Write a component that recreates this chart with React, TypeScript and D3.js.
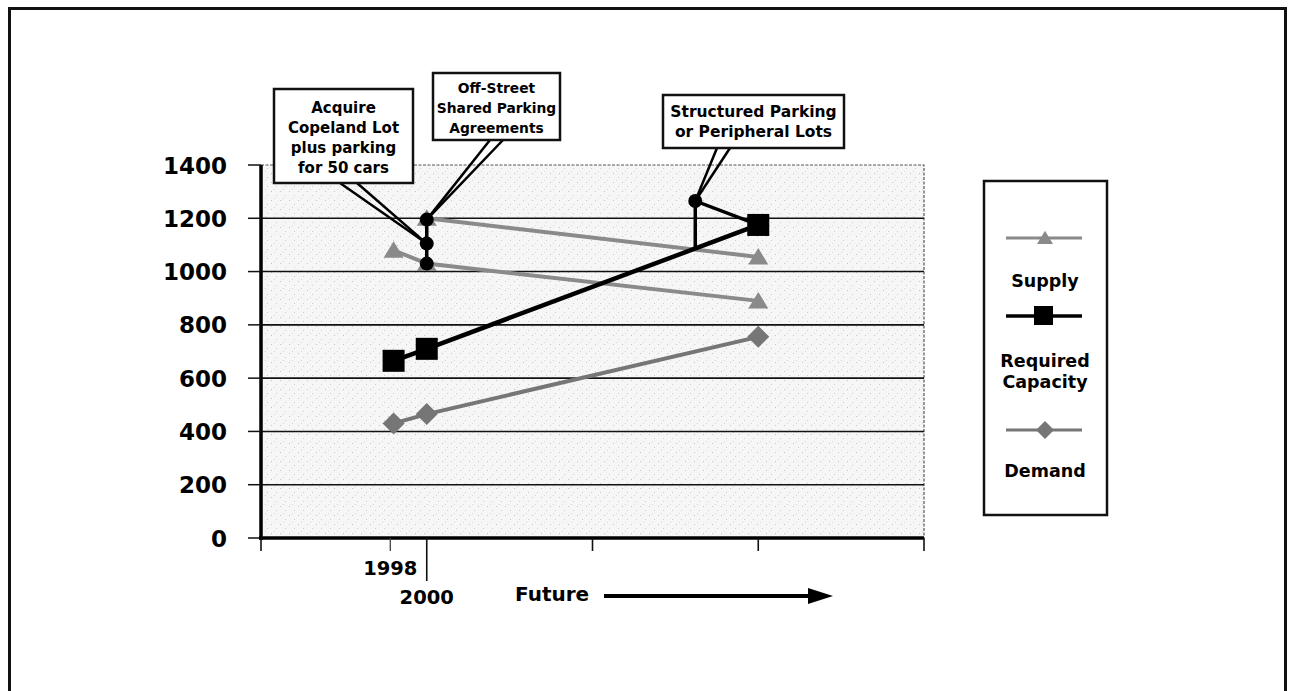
import React from "react";
import * as d3 from "d3";

// ---- data ----
const periodLabels = ["1998", "2000", "Future"];
const periodPos = [0.8, 1, 3];
const supplyCurrent = [1080, 1030, 890];
const supplyExpanded: (number | null)[] = [null, 1200, 1055];
const requiredCapacity = [665, 710, 1175];
const demand = [430, 465, 755];
const yTicks = [0, 200, 400, 600, 800, 1000, 1200, 1400];
const xTicks = [0, 1, 2, 3, 4];
const stepCircles = [1030, 1105, 1195]; // annotation markers at 2000
const structuredPoint = { pos: 2.62, value: 1265 };
const legendItems = ["Supply", "Required Capacity", "Demand"];

const FONT = "'DejaVu Sans', Verdana, sans-serif";
const GREY_S = "#8a8a8a";
const GREY_D = "#767676";

const x = d3.scaleLinear().domain([0, 4]).range([261, 924]);
const y = d3.scaleLinear().domain([0, 1400]).range([538, 165]);

function tri(cx: number, cy: number, s: number) {
  return `M${cx},${cy - s * 0.9} L${cx + s},${cy + s * 0.75} L${cx - s},${cy + s * 0.75} Z`;
}
function diamond(cx: number, cy: number, s: number) {
  return `M${cx},${cy - s} L${cx + s},${cy} L${cx},${cy + s} L${cx - s},${cy} Z`;
}

export default function App() {
  const line = d3
    .line<[number, number | null]>()
    .defined((d) => d[1] != null)
    .x((d) => x(d[0]))
    .y((d) => y(d[1] as number));
  const pts = (vals: (number | null)[]) => vals.map((v, i) => [periodPos[i], v] as [number, number | null]);

  const rcAt = d3.scaleLinear().domain([periodPos[1], periodPos[2]]).range([requiredCapacity[1], requiredCapacity[2]]);
  const sx = x(structuredPoint.pos);
  const sy = y(structuredPoint.value);

  const callouts = [
    { box: [274, 89, 139, 94], fs: 15, lines: ["Acquire", "Copeland Lot", "plus parking", "for 50 cars"], first: 113, tail: [340, 357], target: [x(1), y(stepCircles[1])] },
    { box: [433, 73, 127, 67], fs: 13.8, lines: ["Off-Street", "Shared Parking", "Agreements"], first: 93, tail: [490, 503], target: [x(1), y(stepCircles[2])] },
    { box: [663, 95, 181, 53], fs: 15.5, lines: ["Structured Parking", "or Peripheral Lots"], first: 117, tail: [717, 730], target: [sx, sy] },
  ];

  return (
    <svg width={1289} height={691} style={{ position: "absolute", left: 0, top: 0, background: "#fff" }}>
      <defs>
        <pattern id="stip" width="9" height="9" patternUnits="userSpaceOnUse">
          <rect width="9" height="9" fill="#f6f6f6" />
          <rect x="1" y="2" width="1" height="1" fill="#c4c4c4" />
          <rect x="6" y="6" width="1" height="1" fill="#cfcfcf" />
          <rect x="4" y="0" width="1" height="1" fill="#d8d8d8" />
        </pattern>
      </defs>
      {/* outer frame */}
      <rect x={9.5} y={8.5} width={1276} height={700} fill="none" stroke="#111" strokeWidth={3} />

      {/* plot background */}
      <rect x={x(0)} y={y(1400)} width={x(4) - x(0)} height={y(0) - y(1400)} fill="url(#stip)" />
      <path d={`M${x(0)},${y(1400)} H${x(4)} V${y(0)}`} fill="none" stroke="#555" strokeWidth={1.2} strokeDasharray="3,1.5" />

      {/* gridlines */}
      {yTicks.filter((t) => t > 0 && t < 1400).map((t) => (
        <line key={t} x1={x(0)} x2={x(4)} y1={y(t)} y2={y(t)} stroke="#111" strokeWidth={1.6} />
      ))}

      {/* y axis */}
      <line x1={x(0)} x2={x(0)} y1={y(1400)} y2={y(0) + 2} stroke="#000" strokeWidth={3.5} />
      {yTicks.map((t) => (
        <g key={t}>
          <line x1={248} x2={x(0)} y1={y(t)} y2={y(t)} stroke="#111" strokeWidth={1.5} />
          <text x={227} y={y(t) + 8.5} textAnchor="end" fontFamily={FONT} fontWeight="bold" fontSize={23} fill="#000">
            {t}
          </text>
        </g>
      ))}

      {/* x axis */}
      <line x1={x(0) - 2} x2={x(4)} y1={y(0)} y2={y(0)} stroke="#000" strokeWidth={3.5} />
      {xTicks.map((t) => (
        <line key={t} x1={x(t)} x2={x(t)} y1={y(0)} y2={y(0) + (t === 1 ? 43 : 13)} stroke="#111" strokeWidth={1.6} />
      ))}
      <line x1={x(0.78)} x2={x(0.78)} y1={y(0)} y2={y(0) + 13} stroke="#444" strokeWidth={1.3} />
      <text x={x(0.78)} y={575} textAnchor="middle" fontFamily={FONT} fontWeight="bold" fontSize={19.5} fill="#000">
        {periodLabels[0]}
      </text>
      <text x={x(1)} y={604} textAnchor="middle" fontFamily={FONT} fontWeight="bold" fontSize={19.5} fill="#000">
        {periodLabels[1]}
      </text>
      <text x={515} y={601} fontFamily={FONT} fontWeight="bold" fontSize={20} fill="#000">
        {periodLabels[2]}
      </text>
      <line x1={604} x2={815} y1={596} y2={596} stroke="#000" strokeWidth={4} />
      <path d="M808,588 L833,596 L808,604 Z" fill="#000" />

      {/* supply lines */}
      <path d={line(pts(supplyCurrent)) || ""} fill="none" stroke={GREY_S} strokeWidth={4} />
      <path d={line(pts(supplyExpanded)) || ""} fill="none" stroke={GREY_S} strokeWidth={4} />
      {/* demand */}
      <path d={line(pts(demand)) || ""} fill="none" stroke={GREY_D} strokeWidth={4} />
      {/* required capacity */}
      <path d={line(pts(requiredCapacity)) || ""} fill="none" stroke="#000" strokeWidth={4.5} />

      {/* markers */}
      {supplyCurrent.map((v, i) => (
        <path key={"s" + i} d={tri(x(periodPos[i]), y(v), 10)} fill={GREY_S} />
      ))}
      {supplyExpanded.map((v, i) =>
        v == null ? null : <path key={"e" + i} d={tri(x(periodPos[i]), y(v), 10)} fill={GREY_S} />
      )}
      {demand.map((v, i) => (
        <path key={"d" + i} d={diamond(x(periodPos[i]), y(v), 11)} fill={GREY_D} />
      ))}
      {requiredCapacity.map((v, i) => (
        <rect key={"r" + i} x={x(periodPos[i]) - 11} y={y(v) - 11} width={22} height={22} fill="#000" />
      ))}

      {/* annotation structure */}
      <line x1={x(1)} x2={x(1)} y1={y(stepCircles[0])} y2={y(stepCircles[2])} stroke="#000" strokeWidth={3.5} />
      {stepCircles.map((v, i) => (
        <circle key={"c" + i} cx={x(1)} cy={y(v)} r={7} fill="#000" />
      ))}
      <path
        d={`M${x(periodPos[2])},${y(requiredCapacity[2])} L${sx},${sy} L${sx},${y(rcAt(structuredPoint.pos))}`}
        fill="none"
        stroke="#000"
        strokeWidth={3.5}
      />
      <circle cx={sx} cy={sy} r={7} fill="#000" />

      {/* callouts */}
      {callouts.map((c, i) => {
        const [bx, by, bw, bh] = c.box;
        const [tx, ty] = c.target;
        return (
          <g key={"co" + i}>
            <line x1={c.tail[0]} y1={by + bh} x2={tx} y2={ty} stroke="#000" strokeWidth={2.5} />
            <line x1={c.tail[1]} y1={by + bh} x2={tx} y2={ty} stroke="#000" strokeWidth={2.5} />
            <rect x={bx} y={by} width={bw} height={bh} fill="#fff" stroke="#111" strokeWidth={2.5} />
            {c.lines.map((t, j) => (
              <text key={j} x={bx + bw / 2} y={c.first + j * 20} textAnchor="middle" fontFamily={FONT} fontWeight="bold" fontSize={c.fs} fill="#000">
                {t}
              </text>
            ))}
          </g>
        );
      })}

      {/* legend */}
      <rect x={984} y={181} width={123} height={334} fill="#fff" stroke="#111" strokeWidth={2.5} />
      <line x1={1006} x2={1082} y1={238} y2={238} stroke={GREY_S} strokeWidth={3} />
      <path d={tri(1045, 238, 8)} fill={GREY_S} />
      <text x={1045} y={287} textAnchor="middle" fontFamily={FONT} fontWeight="bold" fontSize={17.5} fill="#000">
        {legendItems[0]}
      </text>
      <line x1={1006} x2={1082} y1={316} y2={316} stroke="#000" strokeWidth={3.5} />
      <rect x={1034} y={306} width={19} height={19} fill="#000" />
      <text x={1045} y={367} textAnchor="middle" fontFamily={FONT} fontWeight="bold" fontSize={17.5} fill="#000">
        Required
      </text>
      <text x={1045} y={388} textAnchor="middle" fontFamily={FONT} fontWeight="bold" fontSize={17.5} fill="#000">
        Capacity
      </text>
      <line x1={1006} x2={1082} y1={430} y2={430} stroke={GREY_D} strokeWidth={3} />
      <path d={diamond(1045, 430, 9)} fill={GREY_D} />
      <text x={1045} y={477} textAnchor="middle" fontFamily={FONT} fontWeight="bold" fontSize={17.5} fill="#000">
        {legendItems[2]}
      </text>
    </svg>
  );
}
